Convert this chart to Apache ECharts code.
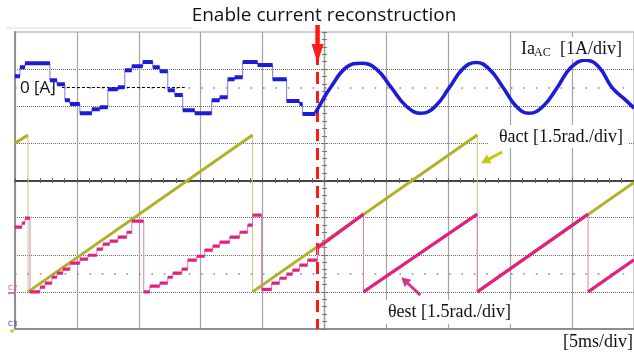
<!DOCTYPE html>
<html>
<head>
<meta charset="utf-8">
<script src="https://cdn.jsdelivr.net/npm/echarts@6/dist/echarts.min.js"></script>
<style>
  html, body { margin: 0; padding: 0; background: #fff; }
  #c { width: 634px; height: 353px; }
</style>
</head>
<body>
<div id="c"></div>
<script>
// Time base: 5 ms per division, 10 divisions
const timeMin = 0;
const timeMax = 50;
const timeDiv = 5;
const enableTime = 24.44; // ms, current reconstruction switched on

// Ia_AC before reconstruction: staircase, [start time ms, current A]
const iaSteps = [
  [0, 0.31], [0.40, 0.55], [0.81, 0.66], [2.82, 0.20], [3.39, 0.09], [4.03, -0.34],
  [4.44, -0.44], [5.24, -0.69], [6.21, -0.58], [6.85, -0.53], [7.50, -0.04], [8.31, 0.01],
  [8.87, 0.47], [9.44, 0.58], [10.32, 0.69], [11.13, 0.55], [11.69, 0.44], [12.34, -0.07],
  [12.90, -0.20], [13.55, -0.61], [14.52, -0.69], [15.89, -0.34], [16.53, -0.26], [17.18, 0.23],
  [17.74, 0.28], [18.39, 0.69], [19.60, 0.61], [20.81, 0.23], [21.94, -0.36], [22.98, -0.44],
  [23.23, -0.71]
];
const iaStepsEnd = 24.27;

// Ia_AC after reconstruction: [time ms, current A]
const iaSine = [
  [24.27, -0.68], [24.84, -0.34], [25.48, 0.00], [26.77, 0.55], [27.98, 0.66], [29.19, 0.50],
  [30.40, 0.00], [31.61, -0.50], [32.82, -0.69], [33.95, -0.50], [35.08, 0.00], [36.21, 0.52],
  [37.26, 0.68], [38.31, 0.50], [39.44, 0.00], [40.48, -0.50], [41.53, -0.69], [42.66, -0.50],
  [43.79, 0.00], [44.92, 0.55], [46.13, 0.74], [47.18, 0.55], [48.23, 0.00], [49.35, -0.34],
  [50.00, -0.55]
];

// θact: [time ms, angle rad]
const thetaAct = [
  [0, 6.01], [1.05, 6.34], [1.05, 0], [19.19, 6.34], [19.19, 0],
  [37.34, 6.34], [37.34, 0], [50, 4.42]
];

// θest before reconstruction: staircase, [start time ms, angle rad]
const thetaEstSteps = [
  [0, 2.62], [0.56, 2.78], [0.81, 2.98], [1.21, 0], [2.02, 0.19], [2.42, 0.35], [2.98, 0.59],
  [3.39, 0.76], [3.87, 0.92], [4.44, 1.16], [5.24, 1.32], [5.89, 1.48], [6.61, 1.73],
  [7.10, 1.93], [7.66, 2.05], [8.31, 2.21], [9.03, 2.41], [9.44, 2.86], [10.40, 0],
  [10.89, 0.23], [11.69, 0.35], [12.34, 0.59], [12.74, 0.76], [13.47, 0.92], [13.95, 1.28],
  [14.68, 1.44], [15.32, 1.69], [15.97, 1.85], [16.53, 2.01], [17.34, 2.21], [18.15, 2.41],
  [18.79, 2.70], [19.19, 3.10], [19.92, 0.10], [20.73, 0.35], [21.37, 0.55], [21.94, 0.72],
  [22.42, 0.88], [22.98, 1.08], [23.63, 1.28]
];
const thetaEstStepsEnd = 24.44;

// θest after reconstruction: [time ms, angle rad]
const thetaEst = [
  [24.44, 1.77], [28.15, 3.14], [28.15, 0], [37.34, 3.14], [37.34, 0],
  [46.29, 3.14], [46.29, 0], [50, 1.30]
];

// Channel scales: 1 A/div with 0 A 1.5 div below top; 1.5 rad/div with 0 rad 1 div above bottom
const currentRange = [-6.5, 1.5];
const angleRange = [-1.5, 10.5];
const divRangeY = [-4, 4];
const divRangeX = [-5, 5];

// staircase [t, v] list -> polyline points
function stairPath(steps, tEnd) {
  const p = [];
  steps.forEach((s, i) => {
    const t1 = i + 1 < steps.length ? steps[i + 1][0] : tEnd;
    p.push([s[0], s[1]], [t1, s[1]]);
  });
  return p;
}
// break the polyline wherever it jumps vertically (thin edges drawn separately)
function gapVerticals(path) {
  const out = [];
  path.forEach((pt, i) => {
    if (i > 0 && pt[0] === path[i - 1][0]) out.push([pt[0], '-']);
    out.push(pt);
  });
  return out;
}

const iaStairPath = stairPath(iaSteps, iaStepsEnd);
const estPath = stairPath(thetaEstSteps, thetaEstStepsEnd).concat(thetaEst);

const BLUE = '#1c1cd8', BLUE_THIN = '#7c7ce4';
const OLIVE = '#b1b126', OLIVE_THIN = '#cbc97c';
const PINK = '#e2217f', PINK_THIN = '#d67fbf';

const chart = echarts.init(document.getElementById('c'), null, { renderer: 'canvas' });

const tickAxisX = (inside) => ({
  type: 'value', gridIndex: 0, position: 'bottom', min: divRangeX[0], max: divRangeX[1], interval: 1,
  axisLine: { show: true, onZero: true, onZeroAxisIndex: 2, lineStyle: { color: '#3d3d3d', width: 1.5 } },
  axisTick: { show: true, inside: inside, length: 2.5, lineStyle: { color: '#666', width: 1 } },
  minorTick: { show: true, splitNumber: 5, length: 2.5, lineStyle: { color: '#666', width: 1 } },
  axisLabel: { show: false }, splitLine: { show: false }
});
const tickAxisY = (inside) => ({
  type: 'value', gridIndex: 0, position: 'left', min: divRangeY[0], max: divRangeY[1], interval: 1,
  axisLine: { show: true, onZero: true, onZeroAxisIndex: 1, lineStyle: { color: '#9a9a9a', width: 1.2 } },
  axisTick: { show: true, inside: inside, length: 2.5, lineStyle: { color: '#777', width: 1 } },
  minorTick: { show: true, splitNumber: 5, length: 2.5, lineStyle: { color: '#777', width: 1 } },
  axisLabel: { show: false }, splitLine: { show: false }
});

const option = {
  animation: false,
  backgroundColor: '#fff',
  grid: { left: 15, top: 32, width: 620, height: 297, show: true, borderColor: '#a0a0a0', borderWidth: 1 },
  xAxis: [
    {
      type: 'value', position: 'bottom', min: timeMin, max: timeMax, interval: timeDiv,
      axisLine: { show: true, onZero: false, lineStyle: { color: '#8e8e8e', width: 2 } },
      axisTick: { show: false }, axisLabel: { show: false },
      splitLine: { show: true, lineStyle: { color: '#a3a3a3', width: 1.2 } }
    },
    tickAxisX(false),
    tickAxisX(true)
  ],
  yAxis: [
    { type: 'value', min: currentRange[0], max: currentRange[1], show: false },
    { type: 'value', min: angleRange[0], max: angleRange[1], show: false },
    {
      type: 'value', position: 'left', min: divRangeY[0], max: divRangeY[1], interval: 1,
      axisLine: { show: true, onZero: false, lineStyle: { color: '#8e8e8e', width: 2 } },
      axisTick: { show: false }, axisLabel: { show: false },
      splitLine: { show: true, showMinLine: false, showMaxLine: false, lineStyle: { type: 'dotted', color: '#6a6a6a', width: 1 } }
    },
    tickAxisY(false),
    tickAxisY(true)
  ],
  series: [
    {
      // half-division dot rows of the graticule
      type: 'line', xAxisIndex: 0, yAxisIndex: 2, data: [], silent: true, z: 1,
      markLine: {
        silent: true, symbol: 'none', label: { show: false },
        lineStyle: { type: [1.6, 10.8], color: '#8a8a8a', width: 1.6 },
        data: [{ yAxis: 2.5 }, { yAxis: -2.5 }]
      }
    },
    {
      name: 'θact edges', type: 'line', xAxisIndex: 0, yAxisIndex: 1, data: thetaAct,
      symbol: 'none', lineStyle: { color: OLIVE_THIN, width: 1 }, z: 3
    },
    {
      name: 'θact', type: 'line', xAxisIndex: 0, yAxisIndex: 1, data: gapVerticals(thetaAct),
      symbol: 'none', connectNulls: false, lineStyle: { color: OLIVE, width: 3 }, z: 4
    },
    {
      name: 'θest edges', type: 'line', xAxisIndex: 0, yAxisIndex: 1, data: estPath,
      symbol: 'none', lineStyle: { color: PINK_THIN, width: 1 }, z: 5
    },
    {
      name: 'θest', type: 'line', xAxisIndex: 0, yAxisIndex: 1, data: gapVerticals(estPath),
      symbol: 'none', connectNulls: false, lineStyle: { color: PINK, width: 3.2 }, z: 6
    },
    {
      name: 'Ia edges', type: 'line', xAxisIndex: 0, yAxisIndex: 0, data: iaStairPath,
      symbol: 'none', lineStyle: { color: BLUE_THIN, width: 1 }, z: 7
    },
    {
      name: 'Ia', type: 'line', xAxisIndex: 0, yAxisIndex: 0, data: gapVerticals(iaStairPath),
      symbol: 'none', connectNulls: false, lineStyle: { color: BLUE, width: 4 }, z: 8,
      markLine: {
        silent: true, symbol: 'none',
        lineStyle: { type: [3, 2], color: '#000', width: 1.2 },
        label: {
          show: true, position: 'start', distance: 6, formatter: '0 [A]',
          fontFamily: 'Open Sans', fontSize: 17, color: '#111'
        },
        data: [[{ coord: [3.79, 0] }, { coord: [13.71, 0] }]]
      }
    },
    {
      name: 'Ia reconstructed', type: 'line', xAxisIndex: 0, yAxisIndex: 0, data: iaSine,
      symbol: 'none', smooth: 0.45, lineStyle: { color: BLUE, width: 3.6 }, z: 8
    },
    {
      // switch-on instant
      type: 'line', xAxisIndex: 0, yAxisIndex: 1, data: [], silent: true, z: 20,
      markLine: {
        silent: true, symbol: 'none', label: { show: false },
        lineStyle: { type: [12, 7], dashOffset: 2, color: '#ff1a1a', width: 3 },
        data: [{ xAxis: enableTime }]
      }
    }
  ]
};
chart.setOption(option);

function arrowShapes(p0, p1, color, w, headL, headW) {
  const dx = p1[0] - p0[0], dy = p1[1] - p0[1];
  const L = Math.hypot(dx, dy), ux = dx / L, uy = dy / L;
  const bx = p1[0] - ux * headL, by = p1[1] - uy * headL;
  return [
    { type: 'line', shape: { x1: p0[0], y1: p0[1], x2: bx + ux, y2: by + uy }, style: { stroke: color, lineWidth: w } },
    { type: 'polygon', shape: { points: [[p1[0], p1[1]], [bx - uy * headW / 2, by + ux * headW / 2], [bx + uy * headW / 2, by - ux * headW / 2]] }, style: { fill: color } }
  ];
}

const ex = chart.convertToPixel({ xAxisIndex: 0 }, enableTime);
const px = (t, th) => chart.convertToPixel({ xAxisIndex: 0, yAxisIndex: 1 }, [t, th]);

const serif = 'Liberation Serif';
const graphics = [
  { type: 'line', shape: { x1: 6, y1: 28, x2: 193, y2: 28 }, style: { stroke: '#d3e3f1', lineWidth: 1 }, z: 50 },
  {
    type: 'text', z: 60,
    style: { text: 'Enable current reconstruction', x: 324, y: 16, align: 'center', verticalAlign: 'middle',
      font: '19px "Open Sans"', fill: '#111' }
  },
  // Ia_AC label
  { type: 'rect', z: 55, shape: { x: 513, y: 37, width: 116, height: 22 }, style: { fill: '#fff' } },
  { type: 'text', z: 60, style: { text: 'Ia', x: 521, y: 49, verticalAlign: 'middle', font: '18px "' + serif + '"', fill: '#111' } },
  { type: 'text', z: 60, style: { text: 'AC', x: 534, y: 53, verticalAlign: 'middle', font: '12px "' + serif + '"', fill: '#111' } },
  { type: 'text', z: 60, style: { text: '[1A/div]', x: 622, y: 49, align: 'right', verticalAlign: 'middle', font: '18px "' + serif + '"', fill: '#111' } },
  // θact label
  { type: 'rect', z: 55, shape: { x: 488, y: 125, width: 140, height: 23 }, style: { fill: '#fff' } },
  { type: 'text', z: 60, style: { text: 'θact [1.5rad./div]', x: 623, y: 137, align: 'right', verticalAlign: 'middle', font: '18px "' + serif + '"', fill: '#111' } },
  // θest label
  { type: 'rect', z: 55, shape: { x: 383, y: 300, width: 141, height: 24 }, style: { fill: '#fff' } },
  { type: 'text', z: 60, style: { text: 'θest [1.5rad./div]', x: 388, y: 312, align: 'left', verticalAlign: 'middle', font: '18px "' + serif + '"', fill: '#111' } },
  // time base
  { type: 'text', z: 60, style: { text: '[5ms/div]', x: 633, y: 342, align: 'right', verticalAlign: 'middle', font: '18px "' + serif + '"', fill: '#111' } },
  // channel markers
  { type: 'text', z: 60, style: { text: 'C2', x: 8, y: 288, verticalAlign: 'middle', font: '7px "DejaVu Sans"', fill: '#e0508f' } },
  { type: 'line', z: 60, shape: { x1: 8, y1: 293, x2: 14, y2: 293 }, style: { stroke: '#e0408a', lineWidth: 1.5 } },
  { type: 'text', z: 60, style: { text: 'C3', x: 8, y: 324, verticalAlign: 'middle', font: '7px "DejaVu Sans"', fill: '#3a3ad0' } },
  { type: 'circle', z: 60, shape: { cx: 12, cy: 331, r: 1.8 }, style: { fill: '#c8c820' } }
];
arrowShapes([ex, 25], [ex, 63], '#ff1a1a', 4.5, 19, 12).forEach(s => { s.z = 70; graphics.push(s); });
arrowShapes(px(39.35, 5.65), px(37.66, 5.20), '#c9c80e', 3, 9, 10).forEach(s => { s.z = 70; graphics.push(s); });
arrowShapes(px(32.74, -0.13), px(31.21, 0.59), '#d2378f', 3, 9, 10).forEach(s => { s.z = 70; graphics.push(s); });

chart.setOption({ graphic: { elements: graphics } });
</script>
</body>
</html>
